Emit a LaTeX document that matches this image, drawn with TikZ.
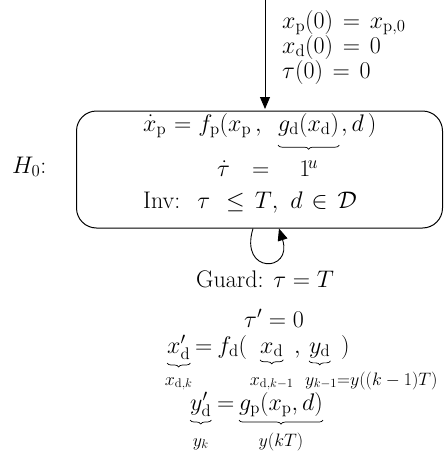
\RequirePackage{fix-cm}
\documentclass[tikz,border=0pt]{standalone}
\usepackage{amsmath,amssymb}
\usetikzlibrary{arrows.meta,decorations.pathreplacing}
\newcommand{\rmsub}[1]{\mathrm{#1}}
\begin{document}
\begin{tikzpicture}[x=1pt,y=-1pt,
  every node/.style={inner sep=0pt, font=\fontsize{24}{29}\selectfont},
  txt/.style={anchor=base},
  lbl/.style={anchor=base west},
  small/.style={anchor=base, font=\fontsize{18}{21}\selectfont},
  smallw/.style={anchor=base west, font=\fontsize{18}{21}\selectfont},
  conn/.style={line width=0.9pt, -{Triangle[length=12pt,width=10pt]}},
  ubrace/.style={decorate, decoration={brace, mirror, amplitude=4pt}, line width=0.7pt},
  locbox/.style={draw, rounded corners=20pt, line width=1pt}
]
\useasboundingbox (0,0) rectangle (445,455);
% location
\node[locbox, minimum width=366pt, minimum height=117pt] (loc) at (259.5,169.5) {};
% initial arrow
\coordinate (start) at (265,0);
\draw[conn, shorten >=1.5pt] (start) -- (start |- loc.north);
\node[lbl] (ic1) at (282,28) {$x_{\rmsub{p}}(0)\hspace{3pt}=\hspace{3pt}x_{\rmsub{p},0}$};
\node[lbl] (ic2) at (282,53) {$x_{\rmsub{d}}(0)\hspace{3pt}=\hspace{3pt}0$};
\node[lbl] (ic3) at (282,78) {$\tau(0)\hspace{3pt}=\hspace{3pt}0$};
% label
\node[lbl] (h0) at (12,173) {$H_0$:};
% contents: flow
\node[lbl] (flow1a) at (143,131) {${\dot{x}_{\rmsub{p}}}\hspace{8pt}{=}\hspace{7pt}f_{\rmsub{p}}(x_{\rmsub{p}}\,{,}$};
\node[lbl] (gd) at (278,131) {$g_{\rmsub{d}}(x_{\rmsub{d}})$};
\node[lbl] (flow1c) at (341,131) {${,}\,d\,)$};
\draw[ubrace] ([yshift=-8pt]gd.south west) -- ([yshift=-8pt]gd.south east);
\node[small] (ulbl) at ([xshift=4pt,yshift=-37pt]gd.base) {$u$};
\node[lbl] (flow2) at (217,176) {$\dot{\tau}\hspace{22pt}{=}\hspace{30pt}1$};
% invariant
\node[lbl] (inv) at (143,208) {Inv:\hspace{17pt}$\tau\hspace{16pt}{\leq}\hspace{10pt}T{,}\hspace{12pt}d\hspace{9pt}{\in}\hspace{10pt}\mathcal{D}$};
% self loop
\draw[conn] ([xshift=-6.5pt]loc.south) .. controls +(-14,46) and +(14,44) .. ([xshift=19.5pt]loc.south);
% transition labels
\node[txt] (guard) at (265,287) {Guard: $\tau = T$};
\node[txt] (reset1) at (274,327) {$\tau' = 0$};
% reset of x_d
\node[lbl] (xdp) at (167,353) {$x'_{\rmsub{d}}$};
\node[lbl] (eq2) at (195,353) {${=}\hspace{5pt}f_{\rmsub{d}}($};
\node[lbl] (xd) at (260,353) {$x_{\rmsub{d}}$};
\node[lbl] (comma2) at (294,353) {${,}$};
\node[lbl] (yd) at (309,353) {$y_{\rmsub{d}}$};
\node[lbl] (rpar2) at (341,353) {$)$};
\draw[ubrace] ([yshift=-3pt]xdp.south west) -- ([yshift=-3pt]xdp.south east);
\draw[ubrace] ([yshift=-3pt]xd.south west) -- ([yshift=-3pt]xd.south east);
\draw[ubrace] ([yshift=-3pt]yd.south west) -- ([yshift=-3pt]yd.south east);
\node[small] (lab1) at ([yshift=-32pt]xdp.base) {$x_{\rmsub{d},k}$};
\node[small] (lab2) at ([yshift=-32pt]xd.base) {$x_{\rmsub{d},k-1}$};
\node[smallw] (lab3) at ([xshift=-4pt,yshift=-32pt]yd.base west) {$y_{k-1}{=}y((k-1)T)$};
% reset of y_d
\node[lbl] (ydp) at (190,410) {$y'_{\rmsub{d}}$};
\node[lbl] (eq3) at (217,410) {$=$};
\node[lbl] (gp) at (239,410) {$g_{\rmsub{p}}(x_{\rmsub{p}}{,}\,d)$};
\draw[ubrace] ([yshift=-3pt]ydp.south west) -- ([yshift=-3pt]ydp.south east);
\draw[ubrace] ([yshift=-3pt]gp.south west) -- ([yshift=-3pt]gp.south east);
\node[small] (lab4) at ([yshift=-36pt]ydp.base) {$y_k$};
\node[small] (lab5) at ([yshift=-36pt]gp.base) {$y(kT)$};
\end{tikzpicture}
\end{document}
